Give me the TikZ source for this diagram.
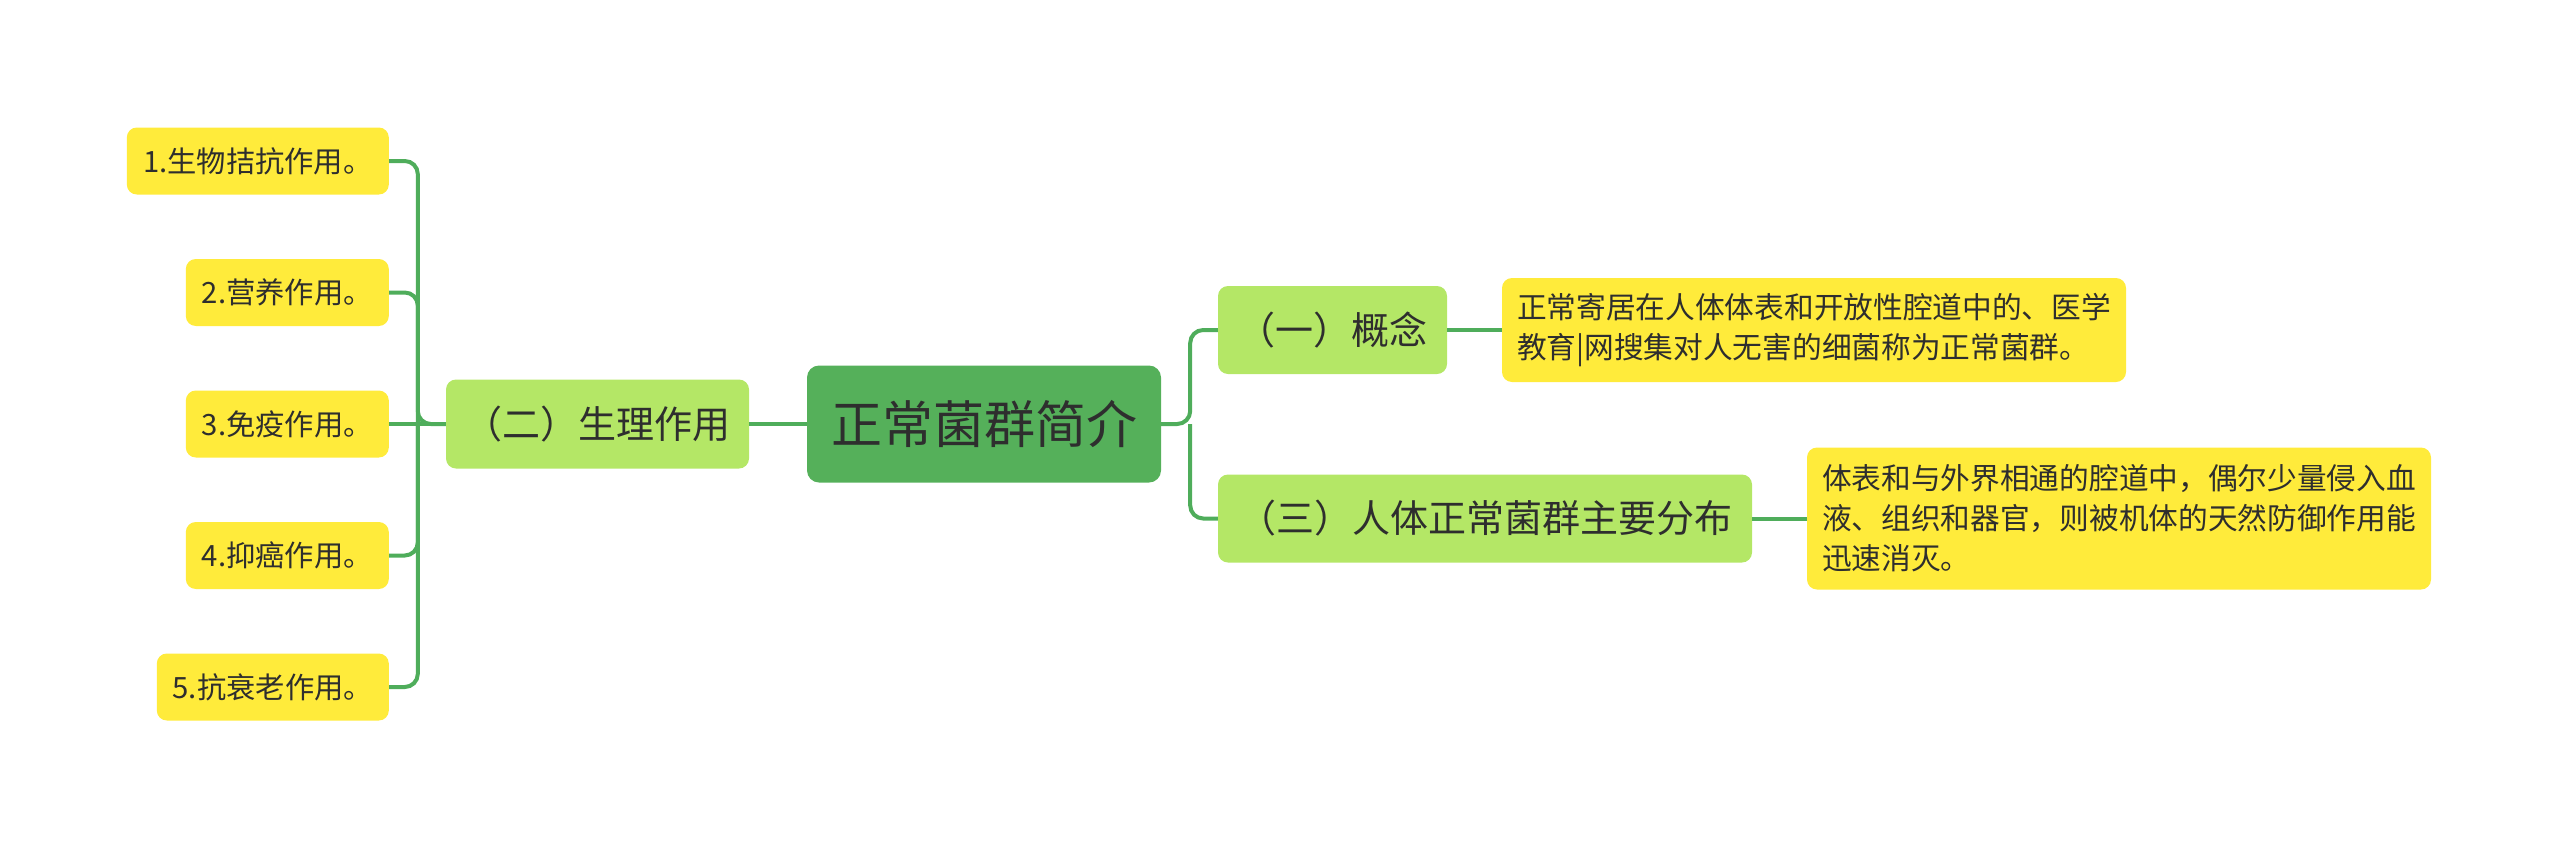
\documentclass[tikz,border=0pt]{standalone}
\usepackage{fontspec}
\setmainfont{Noto Sans CJK SC}
\definecolor{rootfill}{HTML}{55B05A}
\definecolor{subfill}{HTML}{B4E766}
\definecolor{leaffill}{HTML}{FFEB3B}
\definecolor{linegreen}{HTML}{4FAD5B}
\definecolor{txt}{HTML}{2E2E2E}
\tikzset{
  box/.style={rounded corners=10pt, inner sep=0pt, align=center, text=txt},
  rootbox/.style={box, fill=rootfill, rounded corners=12pt, font=\fontsize{51}{60}\selectfont},
  subbox/.style={box, fill=subfill, font=\fontsize{38}{46}\selectfont},
  leafbox/.style={box, fill=leaffill, font=\fontsize{29.3}{35}\selectfont},
  notebox/.style={box, fill=leaffill, align=left, font=\fontsize{29.7}{40}\selectfont},
  conn/.style={draw=linegreen, line width=4pt, rounded corners=13pt},
}
\begin{document}
\begin{tikzpicture}[x=1pt,y=-1pt]
\useasboundingbox (0,0) rectangle (2560,849);
\node[rootbox, minimum width=354pt, minimum height=117pt] (root) at (984,424) {正常菌群简介};
\node[subbox, minimum width=303pt, minimum height=89pt] (sub2) at (597.5,424) {（二）生理作用};
\node[subbox, minimum width=229pt, minimum height=88pt] (sub1) at (1332.5,330) {（一）概念};
\node[subbox, minimum width=534pt, minimum height=88pt] (sub3) at (1485,518.5) {（三）人体正常菌群主要分布};
\node[notebox, minimum width=624pt, minimum height=104pt] (note1) at (1814,330) {正常寄居在人体体表和开放性腔道中的、医学\\教育|网搜集对人无害的细菌称为正常菌群。};
\node[notebox, minimum width=624pt, minimum height=142pt] (note3) at (2119,518.5) {体表和与外界相通的腔道中，偶尔少量侵入血\\液、组织和器官，则被机体的天然防御作用能\\迅速消灭。};
\node[leafbox, anchor=east, minimum width=262pt, minimum height=67pt] (leaf1) at (389,161) {1.生物拮抗作用。};
\node[leafbox, anchor=east, minimum width=203pt, minimum height=67pt] (leaf2) at (389,292.5) {2.营养作用。};
\node[leafbox, anchor=east, minimum width=203pt, minimum height=67pt] (leaf3) at (389,424) {3.免疫作用。};
\node[leafbox, anchor=east, minimum width=203pt, minimum height=67pt] (leaf4) at (389,555.5) {4.抑癌作用。};
\node[leafbox, anchor=east, minimum width=232pt, minimum height=67pt] (leaf5) at (389,687) {5.抗衰老作用。};
\path (sub2.west) ++(-28,0) coordinate (lbus);
\path (root.east) ++(29,0) coordinate (rbus);
\draw[conn] (root.west) -- (sub2.east);
\draw[conn] (leaf1.east) -| (lbus) -- (sub2.west);
\draw[conn] (leaf2.east) -| (lbus);
\draw[conn] (leaf3.east) -- (sub2.west);
\draw[conn] (leaf4.east) -| (lbus);
\draw[conn] (leaf5.east) -| (lbus);
\draw[conn] (sub1.west) -| (rbus) -- (root.east);
\draw[conn] (sub3.west) -| (rbus);
\draw[conn] (sub1.east) -- (note1.west);
\draw[conn] (sub3.east) -- (note3.west);
\end{tikzpicture}
\end{document}
